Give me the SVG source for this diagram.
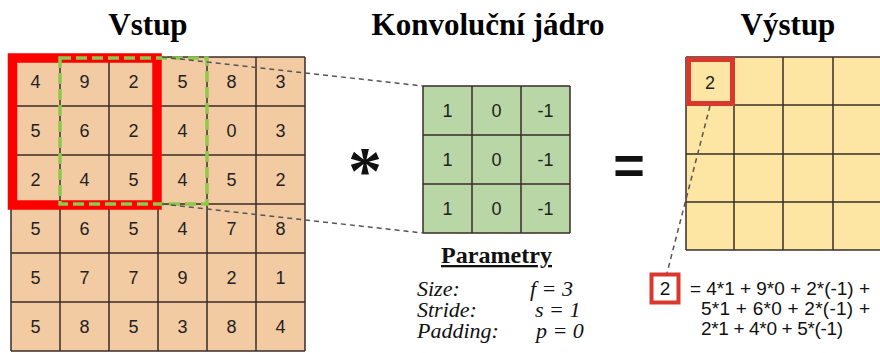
<svg xmlns="http://www.w3.org/2000/svg" width="880" height="353" viewBox="0 0 880 353">
<style>
.title{font-family:"Liberation Serif",serif;font-weight:bold;font-size:31px;fill:#000;text-anchor:middle}
.num{font-family:"Liberation Sans",Arial,sans-serif;font-size:18px;fill:#222;text-anchor:middle}
.grid{stroke:#3a2c28;stroke-width:1.5;fill:none}
.dash{stroke:#555;stroke-width:1.5;stroke-dasharray:5 4;fill:none}
.par{font-family:"Liberation Serif",serif;font-style:italic;font-size:22px;fill:#111}
.eq{font-family:"Liberation Sans",Arial,sans-serif;font-size:19px;fill:#111}
</style>
<rect width="880" height="353" fill="#fff"/>
<g id="titles">
<text class="title" x="148" y="35">Vstup</text>
<text class="title" x="488" y="35">Konvoluční jádro</text>
<text class="title" x="788" y="35">Výstup</text>
</g>
<g id="input">
<rect x="11" y="57" width="294" height="294" fill="#f3cba2"/>
<path class="grid" d="M11 57H305M11 106H305M11 155H305M11 204H305M11 253H305M11 302H305M11 351H305M11 57V351M60 57V351M109 57V351M158 57V351M207 57V351M256 57V351M305 57V351"/>
<g class="num">
<text x="35.5" y="88">4</text><text x="84.5" y="88">9</text><text x="133.5" y="88">2</text><text x="182.5" y="88">5</text><text x="231.5" y="88">8</text><text x="280.5" y="88">3</text>
<text x="35.5" y="137">5</text><text x="84.5" y="137">6</text><text x="133.5" y="137">2</text><text x="182.5" y="137">4</text><text x="231.5" y="137">0</text><text x="280.5" y="137">3</text>
<text x="35.5" y="186">2</text><text x="84.5" y="186">4</text><text x="133.5" y="186">5</text><text x="182.5" y="186">4</text><text x="231.5" y="186">5</text><text x="280.5" y="186">2</text>
<text x="35.5" y="235">5</text><text x="84.5" y="235">6</text><text x="133.5" y="235">5</text><text x="182.5" y="235">4</text><text x="231.5" y="235">7</text><text x="280.5" y="235">8</text>
<text x="35.5" y="284">5</text><text x="84.5" y="284">7</text><text x="133.5" y="284">7</text><text x="182.5" y="284">9</text><text x="231.5" y="284">2</text><text x="280.5" y="284">1</text>
<text x="35.5" y="333">5</text><text x="84.5" y="333">8</text><text x="133.5" y="333">5</text><text x="182.5" y="333">3</text><text x="231.5" y="333">8</text><text x="280.5" y="333">4</text>
</g>
<rect x="12.5" y="58" width="144.5" height="147" fill="none" stroke="#ff0000" stroke-width="9.5"/>
<rect x="60" y="58" width="147" height="146" fill="none" stroke="#8cc84b" stroke-width="3.5" stroke-dasharray="11 5"/>
</g>
<g id="operators">
<text x="365" y="193" font-family="Liberation Serif,serif" font-weight="bold" font-size="68" text-anchor="middle" fill="#111">*</text>
<text x="629" y="184" font-family="Liberation Sans,Arial,sans-serif" font-weight="bold" font-size="54" text-anchor="middle" fill="#111">=</text>
</g>
<g id="kernel">
<rect x="423" y="86" width="147" height="147" fill="#b8d6a6"/>
<path class="grid" d="M423 86H570M423 135H570M423 184H570M423 233H570M423 86V233M472 86V233M521 86V233M570 86V233"/>
<g class="num">
<text x="447.5" y="117">1</text><text x="496.5" y="117">0</text><text x="545.5" y="117">-1</text>
<text x="447.5" y="166">1</text><text x="496.5" y="166">0</text><text x="545.5" y="166">-1</text>
<text x="447.5" y="215">1</text><text x="496.5" y="215">0</text><text x="545.5" y="215">-1</text>
</g>
</g>
<g id="params">
<text x="441" y="263" font-family="Liberation Serif,serif" font-weight="bold" font-size="23" text-decoration="underline" textLength="111" lengthAdjust="spacingAndGlyphs" fill="#111">Parametry</text>
<text class="par" x="417" y="296">Size:</text>
<text class="par" x="530" y="296">f = 3</text>
<text class="par" x="417" y="317">Stride:</text>
<text class="par" x="535" y="317">s = 1</text>
<text class="par" x="417" y="338">Padding:</text>
<text class="par" x="536" y="338">p = 0</text>
</g>
<g id="output">
<rect x="686" y="57" width="196" height="193" fill="#fde5a3"/>
<path class="grid" d="M686 57H882M686 105H882M686 154H882M686 202H882M686 250H882M686 57V250M734 57V250M783 57V250M833 57V250"/>
<rect x="688.5" y="59.5" width="44" height="44" fill="none" stroke="#d9382e" stroke-width="5"/>
<text class="num" x="710" y="89">2</text>
</g>
<g id="connectors">
<path class="dash" d="M162 57L423 86"/>
<path class="dash" d="M162 204L423 233"/>
<path class="dash" d="M710 106L667 273"/>
</g>
<g id="equation">
<rect x="651.5" y="274.5" width="27" height="28" fill="#fff" stroke="#d9382e" stroke-width="4"/>
<text class="eq" x="665" y="295" text-anchor="middle">2</text>
<text class="eq" x="690" y="295" textLength="180" lengthAdjust="spacing">= 4*1 + 9*0 + 2*(-1) +</text>
<text class="eq" x="701" y="315" textLength="169" lengthAdjust="spacing">5*1 + 6*0 + 2*(-1) +</text>
<text class="eq" x="701" y="335" textLength="142" lengthAdjust="spacing">2*1 + 4*0 + 5*(-1)</text>
</g>
</svg>
